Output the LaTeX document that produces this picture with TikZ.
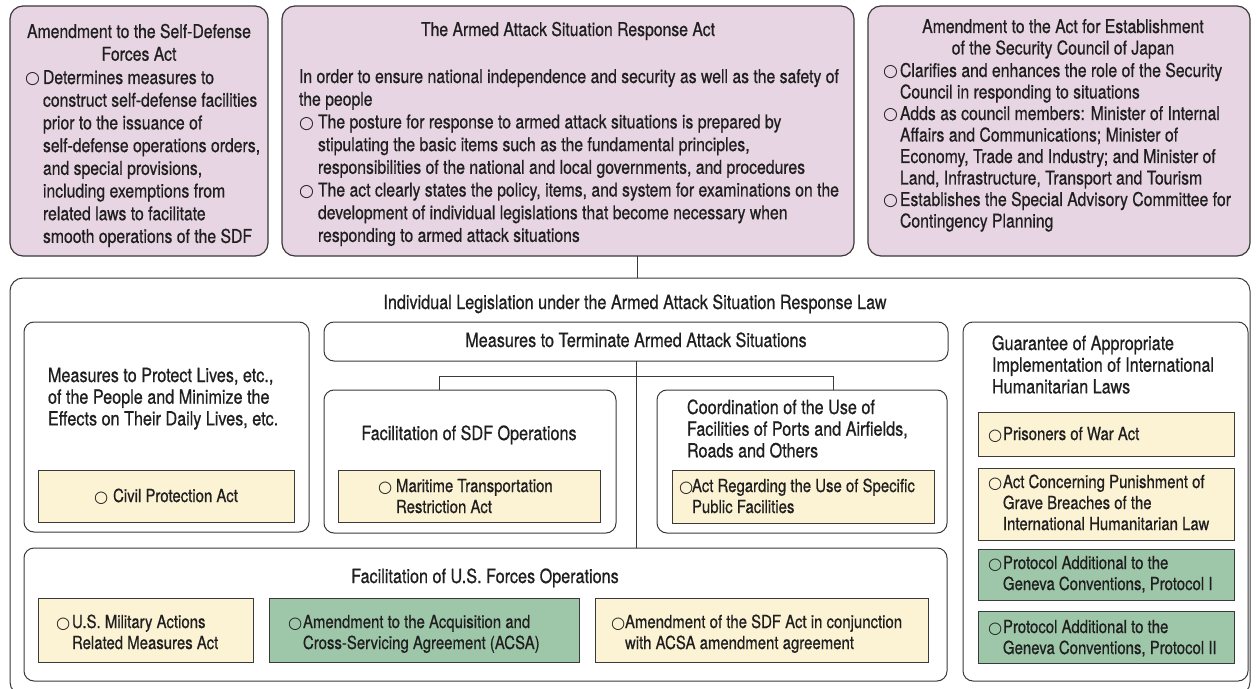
\documentclass[tikz,border=0pt]{standalone}
\usepackage{fontspec}
\setmainfont{TeX Gyre Heros}[FakeStretch=0.83,FakeBold=0.6]
\newfontfamily\symfont{DejaVu Sans}[Scale=0.9]
\definecolor{pinkf}{HTML}{E8D5E3}
\definecolor{yelf}{HTML}{FCF2D4}
\definecolor{grnf}{HTML}{9EC7AA}
\definecolor{edge}{HTML}{3A3A3A}
\newcommand\bul{{\symfont\char"25CB}}
\newcommand\bw[1]{\makebox[#1bp][l]{\bul}}
\newcommand\myL[1]{\vtop{\halign{##\hfil\cr#1\crcr}}}
\newcommand\myC[1]{\vtop{\halign{\hfil##\hfil\cr#1\crcr}}}
\newcommand\myT[1]{\vtop{\halign{##\hfil&##\hfil\cr#1\crcr}}}
\newcommand\fA{\fontsize{19bp}{22.7bp}\selectfont}
\newcommand\fC{\fontsize{19bp}{21.5bp}\selectfont}
\newcommand\fH{\fontsize{19.5bp}{21.7bp}\selectfont}
\newcommand\fS{\fontsize{18bp}{21bp}\selectfont}
\newcommand\bx[6]{\node[#1, anchor=north west, inner sep=0pt, outer sep=0pt, minimum width={#5bp-#3bp}, minimum height={#6bp-#4bp}] (#2) at (#3,#4) {};}
\begin{document}
\begin{tikzpicture}[x=1bp,y=-1bp,
  pinkbox/.style={draw=edge, line width=1.2bp, fill=pinkf, rounded corners=13bp},
  outerbox/.style={draw=edge, line width=1bp, fill=white, rounded corners=13bp},
  wbox/.style={draw=edge, line width=1bp, rounded corners=10bp},
  ybox/.style={draw=edge, line width=0.9bp, fill=yelf},
  gbox/.style={draw=edge, line width=0.9bp, fill=grnf},
  conn/.style={draw=edge, line width=1bp},
  txt/.style={inner sep=0pt, outer sep=0pt, anchor=base west, text=black!88}]
\fill[white] (0,0) rectangle (1257,689);
\useasboundingbox (0,0) rectangle (1257,689);
% top boxes
\bx{pinkbox}{A}{10}{6}{268}{256}
\bx{pinkbox}{B}{282}{6}{854}{256}
\bx{pinkbox}{C}{868}{6}{1250}{256}
% outer
\bx{outerbox}{outer}{10}{278}{1250}{695}
% inner white boxes
\bx{wbox}{L}{24}{322}{309}{532}
\bx{wbox}{T}{324}{322}{948}{361}
\bx{wbox}{S}{324}{390}{616}{533}
\bx{wbox}{Co}{657}{390}{947}{533}
\bx{wbox}{R}{963}{322}{1248}{681}
\bx{wbox}{U}{24}{548}{947}{681}
% coloured boxes
\bx{ybox}{civ}{38}{470}{294}{522}
\bx{ybox}{mar}{338}{470}{600}{522}
\bx{ybox}{arg}{672}{470}{934}{523}
\bx{ybox}{pow}{978}{412}{1234}{456}
\bx{ybox}{acp}{978}{468}{1234}{540}
\bx{gbox}{pa1}{978}{549}{1234}{600}
\bx{gbox}{pa2}{978}{611}{1234}{663}
\bx{ybox}{usm}{38}{598}{253}{662}
\bx{gbox}{acs}{269}{598}{579}{662}
\bx{ybox}{sda}{595}{598}{928}{662}
% connectors
\coordinate (jB) at (637,278);
\draw[conn] (B.south -| jB) -- (outer.north -| jB);
\coordinate (mx) at (636,361);
\draw[conn] (T.south -| mx) -- (U.north -| mx);
\coordinate (hl) at (439,376);
\coordinate (hr) at (833,376);
\draw[conn] (S.north -| hl) -- (hl) -- (hr) -- (Co.north -| hr);
% texts top
\node[txt,anchor=base,font=\fA] (tA) at (139,38) {\myC{Amendment to the Self-Defense\cr Forces Act}};
\node[txt,font=\fA] (bA) at (25,84) {\myT{\bw{18}&Determines measures to\cr
 &construct self-defense facilities\cr
 &prior to the issuance of\cr
 &self-defense operations orders,\cr
 &and special provisions,\cr
 &including exemptions from\cr
 &related laws to facilitate\cr
 &smooth operations of the SDF}};
\node[txt,anchor=base,font=\fA] (tB) at (568,36) {The Armed Attack Situation Response Act};
\node[txt,font=\fA] (bB) at (299,83) {\myT{\rlap{In order to ensure national independence and security as well as the safety of}&\cr
 \rlap{the people}&\cr
 \bw{19}&The posture for response to armed attack situations is prepared by\cr
 &stipulating the basic items such as the fundamental principles,\cr
 &responsibilities of the national and local governments, and procedures\cr
 \bw{19}&The act clearly states the policy, items, and system for examinations on the\cr
 &development of individual legislations that become necessary when\cr
 &responding to armed attack situations}};
\node[txt,anchor=base,font=\fC] (tC) at (1063,33) {\myC{Amendment to the Act for Establishment\cr of the Security Council of Japan}};
\node[txt,font=\fC] (bC) at (883,77) {\myT{\bw{17}&Clarifies and enhances the role of the Security\cr
 &Council in responding to situations\cr
 \bw{17}&Adds as council members: Minister of Internal\cr
 &Affairs and Communications; Minister of\cr
 &Economy, Trade and Industry; and Minister of\cr
 &Land, Infrastructure, Transport and Tourism\cr
 \bw{17}&Establishes the Special Advisory Committee for\cr
 &Contingency Planning}};
% middle headings
\node[txt,anchor=base,font=\fH] (tI) at (635,309) {Individual Legislation under the Armed Attack Situation Response Law};
\node[txt,anchor=base,font=\fH] (tT) at (636,347) {Measures to Terminate Armed Attack Situations};
\node[txt,font=\fH] (tL) at (48,382) {\myL{Measures to Protect Lives, etc.,\cr of the People and Minimize the\cr Effects on Their Daily Lives, etc.}};
\node[txt,anchor=base,font=\fH] (tS) at (469,440) {Facilitation of SDF Operations};
\node[txt,font=\fH] (tCo) at (687,414) {\myL{Coordination of the Use of\cr Facilities of Ports and Airfields,\cr Roads and Others}};
\node[txt,font=\fH] (tR) at (992,350) {\myL{Guarantee of Appropriate\cr Implementation of International\cr Humanitarian Laws}};
\node[txt,anchor=base,font=\fH] (tU) at (485,583) {Facilitation of U.S. Forces Operations};
% coloured box texts
\node[txt,anchor=base,font=\fS] (xciv) at (166,502) {\bw{19}Civil Protection Act};
\node[txt,font=\fS] (xmar) at (378,492) {\myT{\bw{18}&Maritime Transportation\cr &Restriction Act}};
\node[txt,font=\fS] (xarg) at (679,492) {\myT{\bw{13}&Act Regarding the Use of Specific\cr &Public Facilities}};
\node[txt,font=\fS] (xpow) at (988,440) {\bw{15}Prisoners of War Act};
\node[txt,font=\fS] (xacp) at (988,488) {\myT{\bw{15}&Act Concerning Punishment of\cr &Grave Breaches of the\cr &International Humanitarian Law}};
\node[txt,font=\fS] (xpa1) at (988,569) {\myT{\bw{15}&Protocol Additional to the\cr &Geneva Conventions, Protocol I}};
\node[txt,font=\fS] (xpa2) at (988,633) {\myT{\bw{15}&Protocol Additional to the\cr &Geneva Conventions, Protocol II}};
\node[txt,font=\fS] (xusm) at (56,628) {\myT{\bw{16}&U.S. Military Actions\cr &Related Measures Act}};
\node[txt,font=\fS] (xacs) at (288,628) {\myT{\bw{15}&Amendment to the Acquisition and\cr &Cross-Servicing Agreement (ACSA)}};
\node[txt,font=\fS] (xsda) at (611,628) {\myT{\bw{14}&Amendment of the SDF Act in conjunction\cr &with ACSA amendment agreement}};
\end{tikzpicture}
\end{document}
